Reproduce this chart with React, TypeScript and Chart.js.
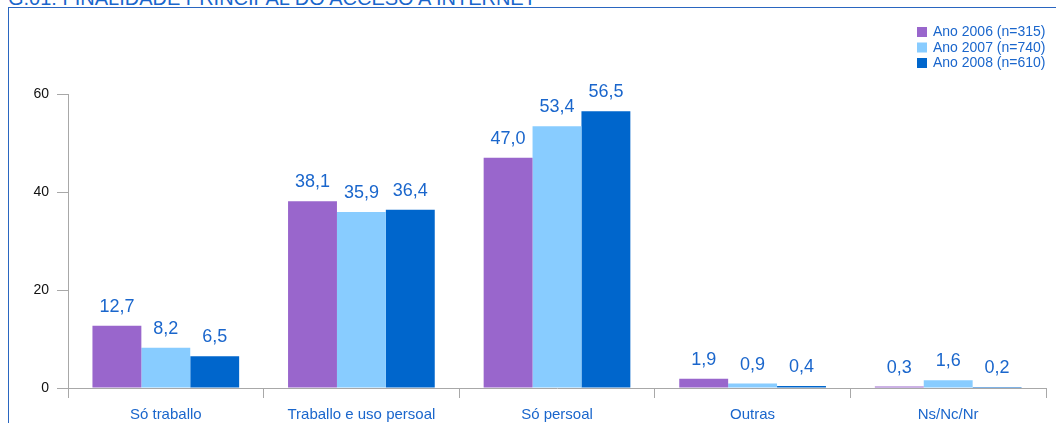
import React, { useEffect, useRef } from "react";
import { Chart, registerables } from "chart.js";

Chart.register(...registerables);

const categories = ["Só traballo", "Traballo e uso persoal", "Só persoal", "Outras", "Ns/Nc/Nr"];
const seriesNames = ["Ano 2006 (n=315)", "Ano 2007 (n=740)", "Ano 2008 (n=610)"];
const values2006 = [12.7, 38.1, 47.0, 1.9, 0.3];
const values2007 = [8.2, 35.9, 53.4, 0.9, 1.6];
const values2008 = [6.5, 36.4, 56.5, 0.4, 0.2];
const seriesColors = ["#9966cc", "#88ccff", "#0066cc"];
const yTicks = [0, 20, 40, 60];

const FONT = "'Liberation Sans', Arial, sans-serif";
const BLUE = "#1a66cc";

const valueLabels = {
  id: "valueLabels",
  afterDatasetsDraw(chart: any) {
    const ctx = chart.ctx;
    ctx.save();
    ctx.font = `18px ${FONT}`;
    ctx.fillStyle = BLUE;
    ctx.textAlign = "center";
    ctx.textBaseline = "alphabetic";
    chart.data.datasets.forEach((ds: any, i: number) => {
      const meta = chart.getDatasetMeta(i);
      meta.data.forEach((bar: any, j: number) => {
        const v = ds.data[j] as number;
        ctx.fillText(v.toFixed(1).replace(".", ","), bar.x, bar.y - 14);
      });
    });
    ctx.restore();
  },
};

const customLegend = {
  id: "customLegend",
  afterDraw(chart: any) {
    const ctx = chart.ctx;
    ctx.save();
    ctx.font = `14px ${FONT}`;
    ctx.textAlign = "left";
    ctx.textBaseline = "middle";
    seriesNames.forEach((name, i) => {
      const cy = 32 + i * 15.5;
      ctx.fillStyle = seriesColors[i];
      ctx.fillRect(917, cy - 5, 10, 10);
      ctx.fillStyle = BLUE;
      ctx.fillText(name, 933, cy + 0.5);
    });
    ctx.restore();
  },
};

export default function App() {
  const ref = useRef<HTMLCanvasElement>(null);

  useEffect(() => {
    if (!ref.current) return;
    const chart = new Chart(ref.current, {
      type: "bar",
      data: {
        labels: categories,
        datasets: [values2006, values2007, values2008].map((d, i) => ({
          label: seriesNames[i],
          data: d,
          backgroundColor: seriesColors[i],
          borderWidth: 0,
          categoryPercentage: 0.75,
          barPercentage: 1,
        })),
      },
      options: {
        responsive: false,
        animation: false,
        devicePixelRatio: 1,
        layout: { padding: { top: 94, right: 10, left: 0, bottom: 0 } },
        plugins: {
          legend: { display: false },
          tooltip: { enabled: false },
          title: { display: false },
        },
        scales: {
          x: {
            grid: {
              offset: true,
              drawOnChartArea: false,
              tickLength: 10,
              color: "#a8a8a8",
            },
            border: { color: "#a8a8a8" },
            ticks: {
              font: { family: FONT, size: 15 },
              color: BLUE,
              padding: 8,
              maxRotation: 0,
            },
            afterFit: (s: any) => {
              s.height = 35;
            },
          },
          y: {
            min: 0,
            max: 60,
            afterBuildTicks: (s: any) => {
              s.ticks = yTicks.map((v) => ({ value: v }));
            },
            grid: {
              drawOnChartArea: false,
              tickLength: 11,
              color: "#a8a8a8",
            },
            border: { color: "#a8a8a8" },
            ticks: {
              font: { family: FONT, size: 14 },
              color: "#111111",
              padding: 8,
            },
            afterFit: (s: any) => {
              s.width = 68;
            },
          },
        },
      },
      plugins: [valueLabels, customLegend],
    });
    return () => chart.destroy();
  }, []);

  return (
    <div
      style={{
        position: "fixed",
        left: 0,
        top: 0,
        width: 1056,
        height: 423,
        overflow: "hidden",
        background: "#ffffff",
      }}
    >
      <div
        style={{
          position: "absolute",
          left: 8,
          top: -12,
          fontFamily: FONT,
          fontSize: 20,
          lineHeight: "20px",
          color: BLUE,
          whiteSpace: "nowrap",
        }}
      >
        G.01: FINALIDADE PRINCIPAL DO ACCESO A INTERNET
      </div>
      <div
        style={{
          position: "absolute",
          left: 8,
          top: 7,
          width: 1100,
          height: 500,
          border: "1px solid #2a66c0",
        }}
      />
      <canvas
        ref={ref}
        width={1056}
        height={423}
        style={{ position: "absolute", left: 0, top: 0, width: 1056, height: 423 }}
      />
    </div>
  );
}
